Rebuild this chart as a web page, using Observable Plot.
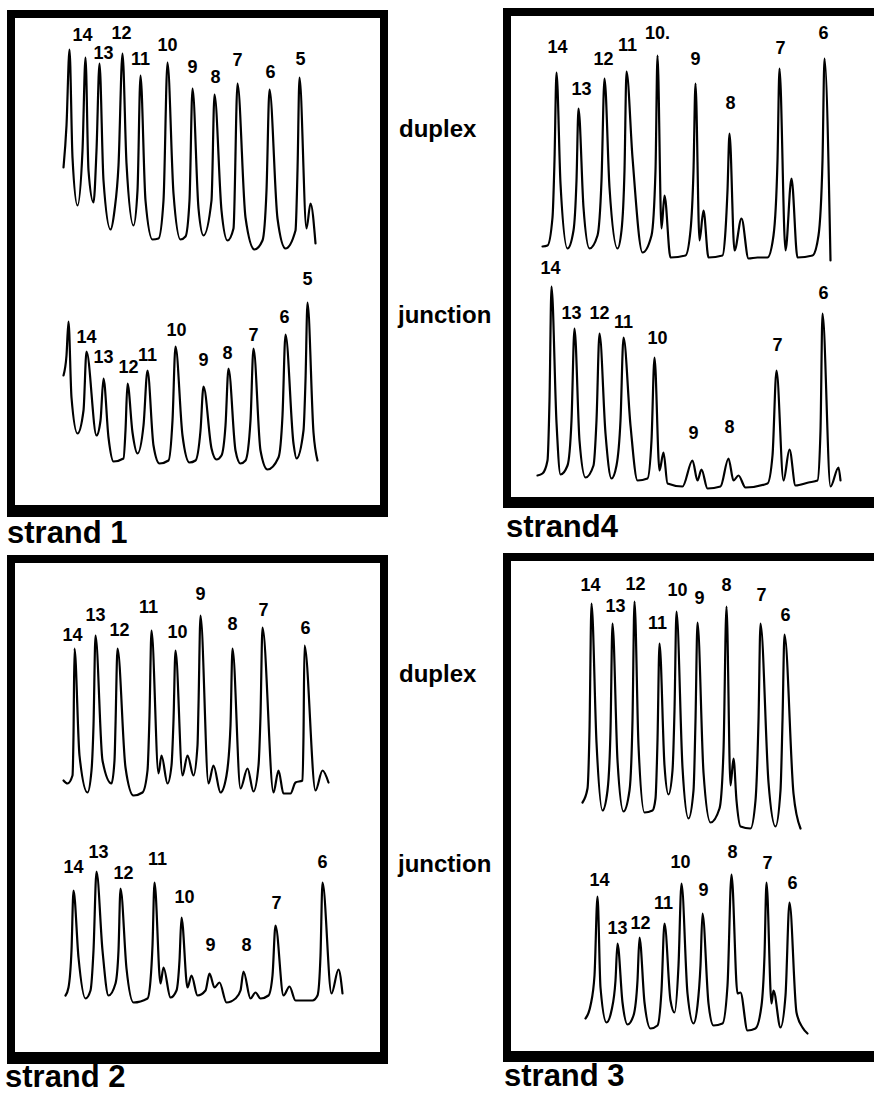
<!DOCTYPE html>
<html>
<head>
<meta charset="utf-8">
<script src="https://cdn.jsdelivr.net/npm/d3@7"></script>
<script src="https://cdn.jsdelivr.net/npm/@observablehq/plot@0.6"></script>
<style>
  html, body { margin: 0; padding: 0; background: #fff; }
  #page { position: relative; width: 874px; height: 1093px; overflow: hidden; background: #fff;
          font-family: "Liberation Sans", Arial, Helvetica, sans-serif; color: #000; }
  .panel { position: absolute; border-style: solid; border-color: #000; box-sizing: content-box; }
  .panel svg { display: block; }
  .lab { position: absolute; font-weight: bold; line-height: 1; white-space: nowrap; }
  .side { font-size: 24px; }
  .cap { font-size: 31px; }
</style>
</head>
<body>
<div id="page"></div>
<script>
// ---------- data: scan position (a.u.) and signal (a.u.) ----------
const bandsFrom14to5 = ["14","13","12","11","10","9","8","7","6","5"];
const bandsFrom14to6 = ["14","13","12","11","10","9","8","7","6"];
const bandsStrand4Duplex = ["14","13","12","11","10.","9","8","7","6"];

// strand 1
const s1DuplexPos    = [48,51,54,57,62,67,70,73,78,81,84,88,95,99,103,107,111,118,122,125,130,137,143,148,152,158,165,170,174,177,183,188,196,199,206,212,218,222,230,239,247,251,254,262,270,280,282,284,291,295,300];
const s1DuplexSignal = [83,125,201,93,45,100,193,80,48,100,187,70,21,40,85,197,87,25,60,175,50,11,12,50,188,57,11,14,50,162,42,15,50,156,40,10,22,167,33,1,10,60,161,32,2,20,80,173,22,47,7];
const s1JunctionPos    = [48,51,53,56,62,68,71,81,85,88,93,98,108,110,112,117,122,128,132,138,144,153,157,160,167,174,180,185,188,196,201,206,210,213,220,225,230,235,238,245,252,263,267,270,278,281,288,290,292,298,302];
const s1JunctionSignal = [95,115,149,73,37,60,119,35,50,92,33,9,12,40,87,38,17,45,100,25,7,10,50,124,35,8,10,40,84,22,11,15,45,102,20,7,10,50,122,20,1,13,55,136,27,12,40,90,168,38,10];
const s1DuplexBandPos      = [67,88,106,125,152,177,200,222,255,285];
const s1DuplexBandSignal   = [215,197,217,191,205,183,173,190,178,191];
const s1JunctionBandPos    = [71,88,113,132,161,188,212,238,269,292];
const s1JunctionBandSignal = [133,113,103,115,140,110,117,135,153,191];

// strand 4
const s4DuplexPos    = [31,36,41,43,45,49,56,62,65,67,72,78,86,90,93,98,106,110,113,115,121,131,140,144,146,150,153,159,174,179,182,184,188,192,197,211,214,216,218,223,230,237,246,256,262,266,268,274,280,286,301,307,311,313,319];
const s4DuplexSignal = [14,15,43,100,188,77,12,30,80,152,53,12,25,80,182,73,12,30,90,189,103,8,25,90,205,32,65,3,5,30,90,177,20,50,3,5,30,70,127,10,42,2,3,3,25,100,192,10,82,3,5,25,100,202,0];
const s4JunctionPos    = [26,31,36,38,40,45,49,56,60,63,68,74,82,85,88,94,100,105,109,112,119,126,136,140,143,148,152,156,171,181,186,190,196,209,217,222,227,234,256,261,265,272,278,284,297,306,309,311,319,327,329];
const s4JunctionSignal = [15,17,30,90,204,68,16,25,70,162,50,13,25,70,157,57,12,25,70,153,65,10,12,50,133,20,38,7,4,30,10,21,2,4,32,10,15,3,7,35,120,10,41,5,8,10,60,177,4,23,10];
const s4DuplexBandPos      = [46,70,92,116,146,184,219,269,312];
const s4DuplexBandSignal   = [213,171,201,215,227,201,157,212,227];
const s4JunctionBandPos    = [39,60,88,112,146,182,218,266,312];
const s4JunctionBandSignal = [222,177,177,168,152,57,63,145,197];

// strand 2
const s2DuplexPos    = [48,52,57,58,59,64,72,76,78,80,87,96,99,100,102,110,118,127,132,134,136,143,146,152,156,158,160,167,172,178,182,183,185,193,198,205,211,215,217,225,232,238,243,245,247,258,263,268,275,280,287,288,289,300,307,313];
const s2DuplexSignal = [15,12,20,60,147,40,3,25,70,160,35,12,35,70,147,28,0,3,25,80,165,22,40,12,30,75,145,20,40,20,50,90,180,12,30,3,20,70,147,7,27,4,30,80,168,3,25,2,2,13,15,60,150,5,25,13];
const s2JunctionPos    = [50,53,56,58,63,70,75,78,81,87,93,100,103,105,111,118,132,135,137,139,145,148,155,161,164,166,172,176,182,190,194,199,204,211,220,225,228,235,240,245,253,257,260,268,274,280,297,302,305,307,316,323,327];
const s2JunctionSignal = [10,18,55,115,48,7,15,55,134,55,10,22,55,117,37,3,7,25,60,123,22,38,8,15,45,88,18,30,10,15,32,18,23,3,7,15,34,7,13,7,10,30,80,10,19,5,5,10,50,123,12,36,12];
const s2DuplexBandPos      = [57,80,104,133,162,185,217,248,290];
const s2DuplexBandSignal   = [160,180,165,188,163,201,171,185,167];
const s2JunctionBandPos    = [58,83,108,142,169,195,231,261,307];
const s2JunctionBandSignal = [138,153,132,146,108,60,60,102,143];

// strand 3
const s3DuplexPos    = [71,76,78,80,85,91,96,99,101,106,112,118,121,123,127,133,141,144,146,148,153,157,161,163,165,171,177,182,184,186,192,199,208,212,215,219,222,225,229,239,244,247,249,257,264,269,271,273,282,289];
const s3DuplexSignal = [28,42,100,227,88,20,40,100,207,70,19,40,110,229,85,18,20,32,90,187,65,36,60,120,219,63,12,40,110,208,58,8,22,80,224,45,72,30,4,2,30,110,207,48,4,40,110,196,37,2];
const s3JunctionPos    = [74,79,83,86,89,95,100,104,106,111,116,122,126,128,133,139,146,150,153,159,163,167,170,176,182,186,189,191,197,202,211,216,220,226,229,236,244,250,253,255,260,262,269,274,278,285,291,296];
const s3JunctionSignal = [17,30,60,139,48,13,25,55,92,33,11,20,55,98,33,7,10,45,112,35,23,70,152,42,12,30,70,122,32,10,12,50,161,42,43,5,7,30,80,153,32,45,8,40,133,23,8,2];
const s3DuplexBandPos      = [79,104,124,146,166,188,215,250,274];
const s3DuplexBandSignal   = [245,224,246,207,240,232,245,235,215];
const s3JunctionBandPos    = [88,106,129,152,169,192,221,256,281];
const s3JunctionBandSignal = [155,107,112,132,173,145,183,172,152];

const captions = ["strand 1", "strand4", "strand 2", "strand 3"];
const traceNames = ["duplex", "junction"];

// ---------- layout ----------
const page = document.getElementById("page");
const FONT = '"Liberation Sans", Arial, Helvetica, sans-serif';

function traceRows(pos, signal, lift, name) {
  return pos.map((p, i) => ({name, pos: p, level: signal[i] + lift}));
}
function bandRows(bands, pos, signal, lift) {
  return bands.map((b, i) => ({band: b, pos: pos[i], level: signal[i] + lift}));
}

function panel(box, traces, labels) {
  const div = document.createElement("div");
  div.className = "panel";
  div.style.left = box.left + "px";
  div.style.top = box.top + "px";
  div.style.width = box.w + "px";
  div.style.height = box.h + "px";
  div.style.borderWidth = box.border;
  const plot = Plot.plot({
    width: box.w, height: box.h, margin: 0,
    x: {domain: [0, box.w], axis: null},
    y: {domain: [0, box.h], axis: null},
    style: {fontFamily: FONT, overflow: "visible", background: "transparent"},
    marks: [
      Plot.line(traces, {x: "pos", y: "level", z: "name", stroke: "#000", strokeWidth: 2.2,
                         strokeLinejoin: "round", curve: "monotone-x"}),
      Plot.text(labels, {x: "pos", y: "level", text: "band", fontSize: 18, fontWeight: "bold",
                         fill: "#000", fontFamily: FONT})
    ]
  });
  div.appendChild(plot);
  page.appendChild(div);
}

function label(text, cls, left, top) {
  const d = document.createElement("div");
  d.className = "lab " + cls;
  d.textContent = text;
  d.style.left = left + "px";
  d.style.top = top + "px";
  page.appendChild(d);
}

// strand 1 (top left)
panel({left: 7, top: 10, w: 365, h: 487, border: "8px 8px 12px 8px"},
  [...traceRows(s1DuplexPos, s1DuplexSignal, 255, "duplex"),
   ...traceRows(s1JunctionPos, s1JunctionSignal, 35, "junction")],
  [...bandRows(bandsFrom14to5, s1DuplexBandPos, s1DuplexBandSignal, 255),
   ...bandRows(bandsFrom14to5, s1JunctionBandPos, s1JunctionBandSignal, 35)]);

// strand 4 (top right; right edge runs off the page)
panel({left: 503, top: 8, w: 366, h: 481, border: "8px 8px 11px 8px"},
  [...traceRows(s4DuplexPos, s4DuplexSignal, 237, "duplex"),
   ...traceRows(s4JunctionPos, s4JunctionSignal, 7, "junction")],
  [...bandRows(bandsStrand4Duplex, s4DuplexBandPos, s4DuplexBandSignal, 237),
   ...bandRows(bandsFrom14to6, s4JunctionBandPos, s4JunctionBandSignal, 7)]);

// strand 2 (bottom left)
panel({left: 7, top: 555, w: 365, h: 489, border: "8px 8px 12px 8px"},
  [...traceRows(s2DuplexPos, s2DuplexSignal, 257, "duplex"),
   ...traceRows(s2JunctionPos, s2JunctionSignal, 47, "junction")],
  [...bandRows(bandsFrom14to6, s2DuplexBandPos, s2DuplexBandSignal, 257),
   ...bandRows(bandsFrom14to6, s2JunctionBandPos, s2JunctionBandSignal, 47)]);

// strand 3 (bottom right; right edge runs off the page)
panel({left: 503, top: 553, w: 366, h: 490, border: "8px 8px 11px 8px"},
  [...traceRows(s3DuplexPos, s3DuplexSignal, 221, "duplex"),
   ...traceRows(s3JunctionPos, s3JunctionSignal, 16, "junction")],
  [...bandRows(bandsFrom14to6, s3DuplexBandPos, s3DuplexBandSignal, 221),
   ...bandRows(bandsFrom14to6, s3JunctionBandPos, s3JunctionBandSignal, 16)]);

// middle labels
label(traceNames[0], "side", 399, 117);
label(traceNames[1], "side", 398, 303);
label(traceNames[0], "side", 399, 662);
label(traceNames[1], "side", 398, 852);

// captions
label(captions[0], "cap", 7, 517);
label(captions[1], "cap", 506, 511);
label(captions[2], "cap", 5, 1061);
label(captions[3], "cap", 504, 1060);
</script>
</body>
</html>
